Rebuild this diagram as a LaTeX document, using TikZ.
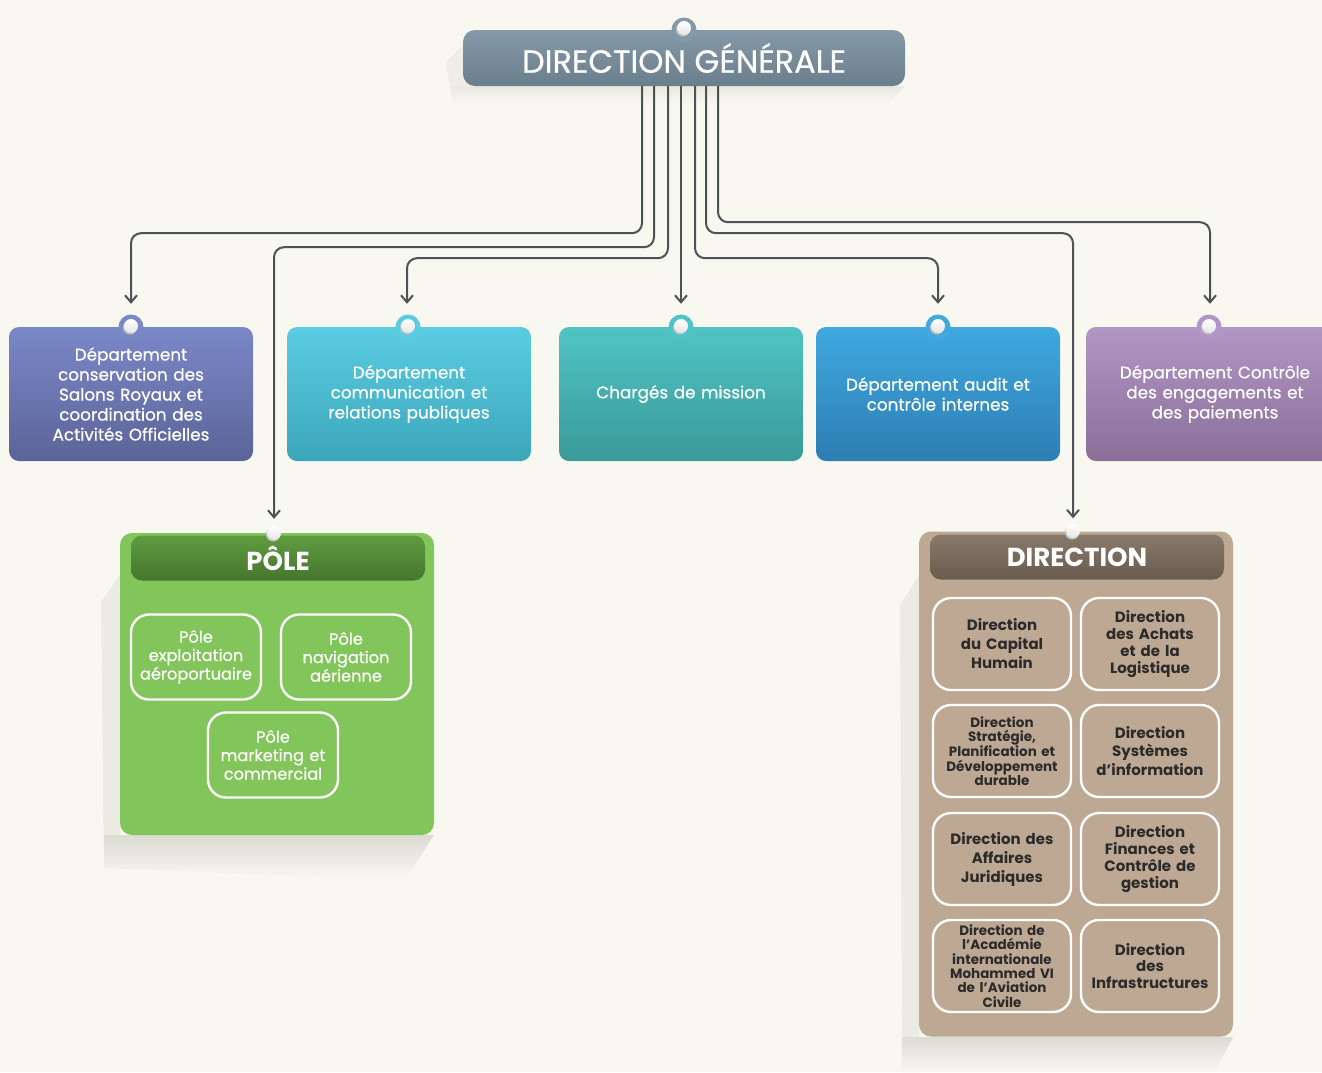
\documentclass[tikz,border=0pt]{standalone}
\usepackage{fontspec}
\setmainfont{Poppins}
\newfontfamily\medium{Poppins}[FakeBold=0.6]
\usetikzlibrary{arrows.meta,calc}
\definecolor{paper}{HTML}{F8F8F1}
\definecolor{shade}{HTML}{DCDCD3}
\definecolor{wire}{HTML}{4D5255}
\definecolor{ink}{HTML}{2B2B2B}
\definecolor{slatetop}{HTML}{8499A8}
\definecolor{slatebot}{HTML}{6B7E8C}
\definecolor{indigotop}{HTML}{7B88C8}
\definecolor{indigobot}{HTML}{5B6498}
\definecolor{cyantop}{HTML}{5ACCE2}
\definecolor{cyanbot}{HTML}{3CA6BA}
\definecolor{tealtop}{HTML}{4FC4C4}
\definecolor{tealbot}{HTML}{3A9A98}
\definecolor{bluetop}{HTML}{3FA9E0}
\definecolor{bluebot}{HTML}{2D7DB2}
\definecolor{mauvetop}{HTML}{B296C5}
\definecolor{mauvebot}{HTML}{896F98}
\definecolor{leaf}{HTML}{82C55A}
\definecolor{leaftop}{HTML}{5F9C40}
\definecolor{leafbot}{HTML}{47752E}
\definecolor{sand}{HTML}{BDA893}
\definecolor{sandtop}{HTML}{88796B}
\definecolor{sandbot}{HTML}{685C4F}
\newcommand{\bx}{\medium\fontsize{16.8pt}{20pt}\selectfont}
\newcommand{\bxs}{\fontsize{13.5pt}{14.4pt}\selectfont}
\newcommand{\bxm}{\fontsize{15pt}{16.8pt}\selectfont}
\tikzset{
  top/.style={rounded corners=12pt, minimum width=442pt, minimum height=56pt,
    top color=slatetop, bottom color=slatebot, text=white,
    font=\medium\fontsize{32pt}{34pt}\selectfont},
  dept/.style={rounded corners=10pt, minimum width=244pt, minimum height=134pt,
    text width=236pt, align=center, inner sep=0pt, text=white, font=\bx},
  group/.style={rounded corners=12pt, minimum width=314pt, inner sep=0pt},
  head/.style={rounded corners=11pt, minimum width=294pt, minimum height=45pt,
    inner sep=0pt, text=white, font=\fontsize{26pt}{28pt}\selectfont\bfseries},
  polebox/.style={draw=white, line width=2.4pt, rounded corners=18pt,
    minimum width=130pt, minimum height=85pt, text width=128pt, inner sep=0pt,
    align=center, text=white, font=\medium\fontsize{16.2pt}{18.5pt}\selectfont},
  dirbox/.style={draw=white, line width=2.4pt, rounded corners=18pt,
    minimum width=138pt, minimum height=92pt, text width=134pt, inner sep=0pt,
    align=center, text=ink, font=\fontsize{15pt}{19pt}\selectfont\bfseries},
  conn/.style={-{Straight Barb[length=7pt,width=12pt]}, line width=2pt,
    color=wire, rounded corners=10pt},
  tab/.style={circle, minimum size=25pt, inner sep=0pt},
  knob/.style={circle, minimum size=14pt, inner sep=0pt, top color=white,
    bottom color=black!10, preaction={fill=black!25,
    transform canvas={xshift=-1pt, yshift=-1.5pt}}},
}
\begin{document}
\begin{tikzpicture}[x=1pt, y=-1pt]
  \useasboundingbox (0,0) rectangle (1322,1072);
  \clip (0,0) rectangle (1322,1072);
  \fill[paper] (0,0) rectangle (1322,1072);
  % ombres
  \fill[shade!35!paper] (463,45) -- (446,62) -- (452,100) -- (470,86) -- cycle;
  \shade[top color=shade!55!paper, bottom color=paper] (452,86) -- (452,104) -- (888,104) -- (905,86) -- cycle;
  \fill[shade!45!paper] (120,575) -- (101,602) -- (104,868) -- (120,868) -- cycle;
  \shade[top color=shade, bottom color=paper] (104,835) -- (104,868) -- (405,880) -- (434,835) -- cycle;
  \fill[shade!45!paper] (919,575) -- (900,605) -- (902,1072) -- (919,1072) -- cycle;
  \shade[top color=shade, bottom color=paper] (902,1037) -- (902,1072) -- (1215,1072) -- (1233,1037) -- cycle;

  \node[top] (dg) at (684,58) {DIRECTION GÉNÉRALE};
  \node[tab, fill=slatetop] at (684,30) {};
  \node[knob] at (684,28) {};

  \node[dept, top color=indigotop, bottom color=indigobot] (d1) at (131,394)
    {Département\\conservation des\\Salons Royaux et\\coordination des\\Activités Officielles};
  \node[dept, top color=cyantop, bottom color=cyanbot] (d2) at (409,394)
    {Département\\communication et\\relations publiques};
  \node[dept, top color=tealtop, bottom color=tealbot] (d3) at (681,394)
    {Chargés de mission};
  \node[dept, top color=bluetop, bottom color=bluebot] (d4) at (938,394)
    {Département audit et\\contrôle internes};
  \node[dept, top color=mauvetop, bottom color=mauvebot, minimum width=258pt] (d5) at (1215,394)
    {Département Contrôle\\des engagements et\\des paiements};

  % PÔLE
  \node[group, fill=leaf, minimum height=302pt] (pole) at (277,684) {};
  \node[head, top color=leaftop, bottom color=leafbot] (ph) at (278,558) {PÔLE};
  \node[polebox] (p1) at (196,657) {Pôle\\exploitation\\aéroportuaire};
  \node[polebox] (p2) at (346,657) {Pôle\\navigation\\aérienne};
  \node[polebox] (p3) at (273,755) {Pôle\\marketing et\\commercial};

  % DIRECTION
  \node[group, fill=sand, minimum height=505pt] (dir) at (1076,784) {};
  \node[head, top color=sandtop, bottom color=sandbot] (dh) at (1077,557) {DIRECTION};
  \node[dirbox] (r1a) at (1002,644) {Direction\\du Capital\\Humain};
  \node[dirbox, font=\bxm\bfseries] (r1b) at (1150,644) {Direction\\des Achats\\et de la\\Logistique};
  \node[dirbox, font=\bxs\bfseries] (r2a) at (1002,751) {Direction\\Stratégie,\\Planification et\\Développement\\durable};
  \node[dirbox, font=\fontsize{15pt}{18.5pt}\selectfont\bfseries] (r2b) at (1150,751) {Direction\\Systèmes\\d’information};
  \node[dirbox] (r3a) at (1002,859) {Direction des\\Affaires\\Juridiques};
  \node[dirbox, font=\bxm\bfseries] (r3b) at (1150,859) {Direction\\Finances et\\Contrôle de\\gestion};
  \node[dirbox, font=\bxs\bfseries] (r4a) at (1002,966) {Direction de\\l'Académie\\internationale\\Mohammed VI\\de l’Aviation\\Civile};
  \node[dirbox, font=\bxm\bfseries] (r4b) at (1150,966) {Direction\\des\\Infrastructures};

  % liaisons
  \draw[conn] ([xshift=-42pt]dg.south) -- ++(0,147) -| ($(d1.north)+(0,-23)$);
  \draw[conn] ([xshift=-30pt]dg.south) -- ++(0,161) -| ($(pole.north)+(-3,-14)$);
  \draw[conn] ([xshift=-16pt]dg.south) -- ++(0,172) -| ($(d2.north)+(-2,-23)$);
  \draw[conn] ([xshift=-3pt]dg.south) -- ($(d3.north)+(0,-23)$);
  \draw[conn] ([xshift=11pt]dg.south) -- ++(0,172) -| ($(d4.north)+(0,-23)$);
  \draw[conn] ([xshift=22pt]dg.south) -- ++(0,147) -| ($(dir.north)+(-3,-13)$);
  \draw[conn] ([xshift=34pt]dg.south) -- ++(0,136) -| ($(d5.north)+(-5,-23)$);

  \foreach \x/\c in {131/indigotop, 408/cyantop, 681/tealtop, 938/bluetop, 1209/mauvetop}{
    \node[tab, fill=\c] at (\x,327) {};
    \node[knob] at (\x,326) {};
  }
  \node[knob] at (274,533) {};
  \node[knob] at (1073,531) {};
\end{tikzpicture}
\end{document}
